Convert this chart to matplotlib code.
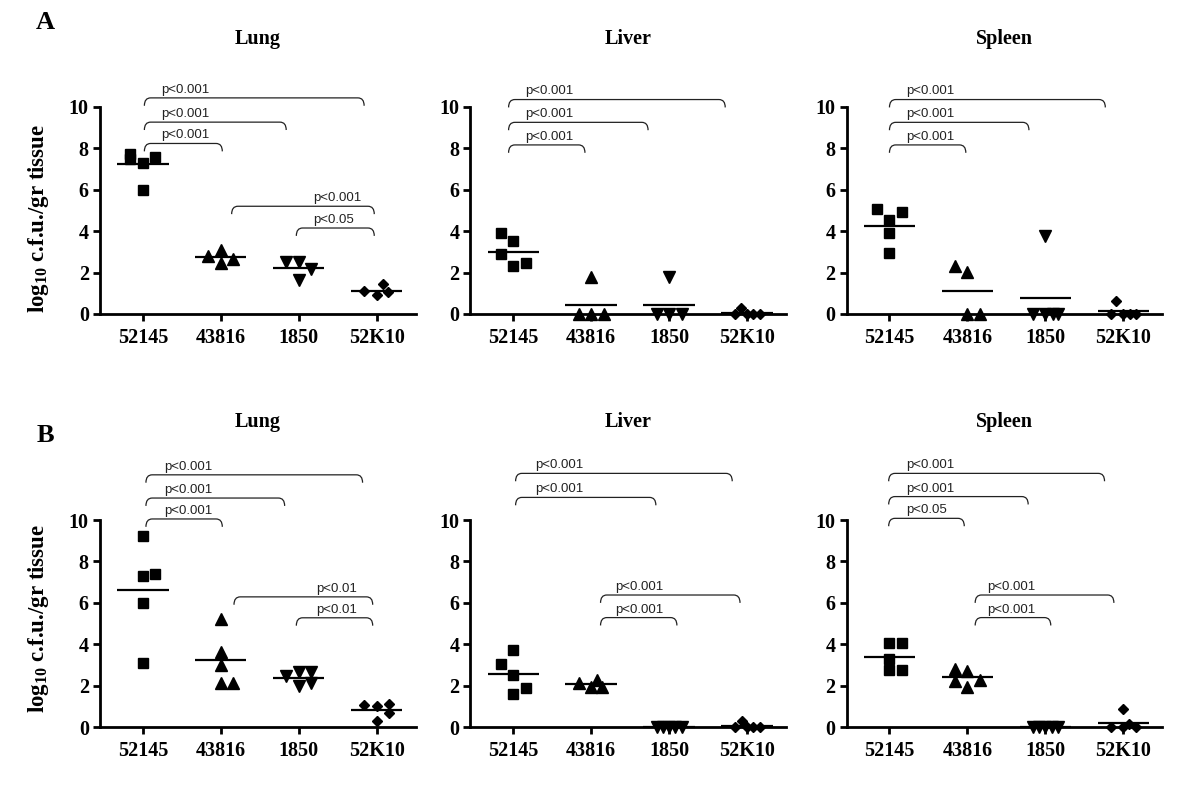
import matplotlib.pyplot as plt
from matplotlib.path import Path
from matplotlib.patches import PathPatch

plt.rcParams['mathtext.fontset'] = 'custom'
plt.rcParams['mathtext.rm'] = 'Liberation Serif:bold'
plt.rcParams['mathtext.bf'] = 'Liberation Serif:bold'
plt.rcParams['mathtext.default'] = 'bf'

SERIF = 'Liberation Serif'
SANS = 'Liberation Sans'

strains = ['52145', '43816', '1850', '52K10']
organs = ['Lung', 'Liver', 'Spleen']
ylabel = 'log$_{10}$ c.f.u./gr tissue'

# log10 cfu per organ, one list per strain
a_lung = [[7.7, 7.5, 7.3, 7.6, 6.0], [2.8, 3.1, 2.45, 2.65], [2.5, 2.5, 2.15, 1.65], [1.1, 0.9, 1.45, 1.05]]
a_liver = [[3.9, 3.5, 2.9, 2.3, 2.45], [1.8, 0, 0, 0], [1.8, 0, 0, 0], [0.3, 0, 0, 0, 0]]
a_spleen = [[5.05, 4.9, 4.55, 3.9, 2.95], [2.3, 2.05, 0, 0], [3.75, 0, 0, 0, 0], [0.65, 0, 0, 0, 0]]
b_lung = [[9.25, 7.3, 7.4, 6.0, 3.1], [5.2, 3.65, 3.0, 2.15, 2.15], [2.45, 2.65, 2.65, 2.0, 2.15], [1.05, 1.0, 1.1, 0.7, 0.3]]
b_liver = [[3.75, 3.05, 2.5, 1.9, 1.6], [2.15, 1.95, 2.3, 1.95], [0, 0, 0, 0, 0], [0.3, 0, 0, 0, 0]]
b_spleen = [[4.05, 4.05, 3.3, 2.75, 2.75], [2.8, 2.7, 2.25, 2.3, 1.95], [0, 0, 0, 0, 0], [0.9, 0.15, 0, 0, 0]]

# comparisons: (group i, group j, p label)
a_lung_cmp = [(0, 3, 'p<0.001'), (0, 2, 'p<0.001'), (0, 1, 'p<0.001'), (1, 3, 'p<0.001'), (2, 3, 'p<0.05')]
a_liver_cmp = [(0, 3, 'p<0.001'), (0, 2, 'p<0.001'), (0, 1, 'p<0.001')]
a_spleen_cmp = [(0, 3, 'p<0.001'), (0, 2, 'p<0.001'), (0, 1, 'p<0.001')]
b_lung_cmp = [(0, 3, 'p<0.001'), (0, 2, 'p<0.001'), (0, 1, 'p<0.001'), (1, 3, 'p<0.01'), (2, 3, 'p<0.01')]
b_liver_cmp = [(0, 3, 'p<0.001'), (0, 2, 'p<0.001'), (1, 3, 'p<0.001'), (1, 2, 'p<0.001')]
b_spleen_cmp = [(0, 3, 'p<0.001'), (0, 2, 'p<0.001'), (0, 1, 'p<0.05'), (1, 3, 'p<0.001'), (1, 2, 'p<0.001')]

# --- layout only below: horizontal scatter slots and bracket geometry ---
a_lung_slot = [[-1, -1, 0, 1, 0], [-1, 0, 0, 1], [-1, 0, 1, 0], [-1, 0, 0.55, 0.95]]
a_liver_slot = [[-1, 0, -1, 0, 1], [0, -1, 0, 1], [0, -1, 0, 1], [-0.5, -1, 0, 0.5, 1]]
a_spleen_slot = [[-1, 1, 0, 0, 0], [-1, 0, 0, 1], [0, -1, 0, 0.6, 1], [-0.55, -1, 0, 0.55, 1]]
b_lung_slot = [[0, 0, 1, 0, 0], [0, 0, 0, 0, 1], [-1, 0, 1, 0, 1], [-1, 0, 1, 1, 0]]
b_liver_slot = [[0, -1, 0, 1, 0], [-1, 0, 0.45, 0.9], [-1, -0.5, 0, 0.5, 1], [-0.4, -1, 0, 0.5, 1]]
b_spleen_slot = [[0, 1, 0, 0, 1], [-1, 0, -1, 1, 0], [-1, -0.5, 0, 0.5, 1], [0, 0.45, -1, 0, 1]]

# (height, start shift, end shift, text x)
a_lung_geo = [(10.43, 0.02, -0.16, 0.24), (9.26, 0.02, -0.16, 0.24), (8.23, 0.02, 0.02, 0.24),
              (5.2, 0.14, -0.03, 2.19), (4.15, -0.03, -0.03, 2.19)]
a_liver_geo = [(10.35, -0.06, -0.28, 0.15), (9.25, -0.06, -0.27, 0.15), (8.16, -0.06, -0.08, 0.15)]
a_spleen_geo = [(10.35, 0.0, -0.23, 0.22), (9.25, 0.0, -0.21, 0.22), (8.16, 0.0, -0.02, 0.22)]
b_lung_geo = [(12.18, 0.04, -0.18, 0.28), (11.06, 0.04, -0.18, 0.28), (10.05, 0.04, 0.02, 0.28),
              (6.29, 0.17, -0.05, 2.23), (5.28, -0.03, -0.05, 2.23)]
b_liver_geo = [(12.25, 0.03, -0.19, 0.28), (11.09, 0.03, -0.17, 0.28),
               (6.38, 0.12, -0.09, 1.31), (5.29, 0.12, 0.10, 1.31)]
b_spleen_geo = [(12.25, -0.01, -0.24, 0.22), (11.13, -0.01, -0.22, 0.22), (10.08, -0.01, -0.04, 0.22),
                (6.38, 0.10, -0.12, 1.26), (5.29, 0.10, 0.07, 1.26)]

markers = ['s', '^', 'v', 'D']
msizes = [7.2, 8.2, 8.2, 5.6]
STEP = 0.16


def bracket(ax, x1, x2, h, drop=0.38, r=0.08):
    verts = [(x1, h - drop), (x1, h), (x1 + r, h), (x2 - r, h), (x2, h), (x2, h - drop)]
    codes = [Path.MOVETO, Path.CURVE3, Path.CURVE3, Path.LINETO, Path.CURVE3, Path.CURVE3]
    ax.add_patch(PathPatch(Path(verts, codes), fill=False, lw=0.9, color='#222222', clip_on=False))


def draw_panel(ax, groups, slots, cmps, geo, title, title_y):
    for i, (vals, sl) in enumerate(zip(groups, slots)):
        xs = [i + STEP * s for s in sl]
        ax.plot(xs, vals, ls='none', marker=markers[i], ms=msizes[i], color='black',
                clip_on=False, zorder=4)
        m = sum(vals) / len(vals)
        ax.plot([i - 0.33, i + 0.33], [m, m], color='black', lw=1.6, solid_capstyle='butt',
                clip_on=False, zorder=3)
    for (i, j, lab), (h, d1, d2, tx) in zip(cmps, geo):
        bracket(ax, i + d1, j + d2, h)
        ax.text(tx, h + 0.1, lab, ha='left', va='bottom', fontsize=9.5, family=SANS,
                color='#222222', clip_on=False)

    ax.set_xlim(-0.55, 3.5)
    ax.set_ylim(0, 10)
    ax.set_xticks(range(len(strains)))
    ax.set_xticklabels(strains)
    ax.set_yticks(range(0, 11, 2))
    for s in ['top', 'right']:
        ax.spines[s].set_visible(False)
    for s in ['left', 'bottom']:
        ax.spines[s].set_linewidth(2)
    ax.tick_params(width=2, length=5, labelsize=14.5)
    ax.tick_params(axis='x', pad=5)
    ax.tick_params(axis='y', pad=3)
    for lbl in ax.get_xticklabels() + ax.get_yticklabels():
        lbl.set_fontfamily(SERIF)
        lbl.set_fontweight('bold')
    ax.text(0.5, title_y, title, transform=ax.transAxes, ha='center', va='center',
            fontsize=14.5, family=SERIF, fontweight='bold')


fig = plt.figure(figsize=(12, 8), dpi=100)

lefts = [0.0833, 0.392, 0.7055]
rows = [
    (0.6075, [a_lung, a_liver, a_spleen], [a_lung_slot, a_liver_slot, a_spleen_slot],
     [a_lung_cmp, a_liver_cmp, a_spleen_cmp], [a_lung_geo, a_liver_geo, a_spleen_geo],
     1.325, 'A', 0.972, 0.7275),
    (0.091, [b_lung, b_liver, b_spleen], [b_lung_slot, b_liver_slot, b_spleen_slot],
     [b_lung_cmp, b_liver_cmp, b_spleen_cmp], [b_lung_geo, b_liver_geo, b_spleen_geo],
     1.475, 'B', 0.455, 0.2275),
]

for bottom, data, slots, cmps, geos, ty, letter, letter_y, ylab_y in rows:
    for k in range(3):
        ax = fig.add_axes([lefts[k], bottom, 0.263, 0.259])
        draw_panel(ax, data[k], slots[k], cmps[k], geos[k], organs[k], ty)
    fig.text(0.0325, ylab_y, ylabel, rotation=90, ha='center', va='center',
             fontsize=16.5, family=SERIF, fontweight='bold')
    fig.text(0.0375, letter_y, letter, ha='center', va='center',
             fontsize=19, family=SERIF, fontweight='bold')

fig.savefig('out.png', dpi=100)
